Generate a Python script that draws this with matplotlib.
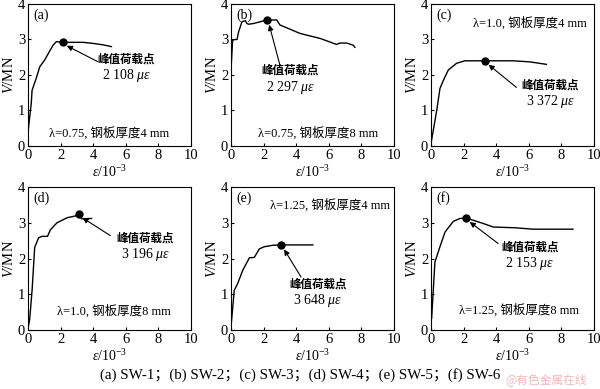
import matplotlib
matplotlib.use("Agg")
import matplotlib.pyplot as plt

plt.rcParams['font.family'] = ['Liberation Serif', 'Noto Sans CJK SC']
plt.rcParams['mathtext.fontset'] = 'custom'
plt.rcParams['mathtext.rm'] = 'Liberation Serif'
plt.rcParams['mathtext.it'] = 'Liberation Serif:italic'

# ---- data (strain in 1e-3, load in MN) ----
a_x = [0.0, 0.05, 0.2, 0.25, 0.5, 0.72, 1.02, 1.3, 1.54, 1.74, 2.13, 2.8, 3.38, 4.0, 4.6, 5.12]
a_y = [0.35, 0.6, 1.2, 1.57, 1.9, 2.23, 2.42, 2.65, 2.84, 2.94, 2.92, 2.92, 2.92, 2.89, 2.85, 2.8]
b_x = [0.0, 0.1, 0.26, 0.37, 0.47, 0.57, 0.67, 0.88, 0.98, 1.08, 1.38, 1.79, 2.2, 2.81, 3.0, 4.24, 5.47, 6.48, 6.68, 7.1, 7.5, 7.6]
b_y = [2.14, 2.98, 3.0, 3.0, 3.22, 3.36, 3.5, 3.53, 3.45, 3.43, 3.45, 3.5, 3.55, 3.55, 3.41, 3.17, 3.03, 2.86, 2.9, 2.9, 2.84, 2.78]
c_x = [0.0, 0.35, 0.55, 0.76, 1.06, 1.57, 2.08, 3.3, 5.04, 6.06, 7.08]
c_y = [0.07, 1.0, 1.62, 1.85, 2.14, 2.33, 2.4, 2.4, 2.4, 2.37, 2.3]
d_x = [0.0, 0.1, 0.25, 0.41, 0.65, 0.86, 1.2, 1.37, 1.78, 2.4, 3.0, 3.1, 3.3, 3.9]
d_y = [0.05, 0.28, 1.11, 2.31, 2.58, 2.62, 2.62, 2.8, 3.0, 3.14, 3.2, 3.24, 3.11, 3.12]
e_x = [0.0, 0.2, 0.41, 0.72, 1.13, 1.43, 1.74, 2.05, 2.56, 3.07, 5.02]
e_y = [0.09, 1.11, 1.3, 1.67, 2.02, 2.03, 2.27, 2.33, 2.37, 2.38, 2.38]
f_x = [0.04, 0.24, 0.55, 0.86, 1.37, 1.78, 2.14, 2.59, 3.2, 3.82, 5.14, 6.27, 8.71]
f_y = [0.33, 1.9, 2.33, 2.74, 3.04, 3.12, 3.13, 3.07, 2.98, 2.88, 2.86, 2.82, 2.82]

peaks_x = [2.13, 2.2, 3.3, 3.1, 3.07, 2.14]
peaks_y = [2.92, 3.55, 2.4, 3.24, 2.38, 3.13]
peak_labels = ['2 108', '2 297', '3 372', '3 196', '3 648', '2 153']
panel_labels = ['(a)', '(b)', '(c)', '(d)', '(e)', '(f)']
lambdas = ['0.75', '0.75', '1.0', '1.0', '1.25', '1.25']
thick = ['4', '8', '4', '8', '4', '8']
caption = '(a) SW-1；(b) SW-2；(c) SW-3；(d) SW-4；(e) SW-5；(f) SW-6'

curves = [(a_x, a_y), (b_x, b_y), (c_x, c_y), (d_x, d_y), (e_x, e_y), (f_x, f_y)]

# text layout per panel
txt_pos = [(6.05, 2.44), (3.63, 2.11), (7.3, 1.71), (7.2, 2.55), (5.33, 1.27), (6.06, 2.3)]
arrow_start = [(4.3, 2.37), (3.0, 2.28), (5.24, 1.65), (5.05, 2.64), (4.3, 1.48), (4.12, 2.42)]
lam_pos = [(5.0, 0.37), (5.35, 0.35), (6.06, 3.47), (5.25, 0.54), (6.05, 3.5), (5.39, 0.56)]

fig = plt.figure(figsize=(6.0, 3.89), dpi=100)
W, H = 600, 389
lefts = [28, 231, 431]
rows = [(4, 146), (187, 330)]

for i in range(6):
    r, c = divmod(i, 3)
    top, bot = rows[r]
    ax = fig.add_axes([lefts[c] / W, 1 - bot / H, 163 / W, (bot - top) / H])
    x, y = curves[i]
    ax.plot(x, y, color='black', lw=1.0)
    ax.plot(peaks_x[i], peaks_y[i], 'o', color='black', ms=5)
    ax.set_xlim(0, 10)
    ax.set_ylim(0, 4)
    ax.set_xticks([0, 2, 4, 6, 8, 10])
    ax.set_yticks([0, 1, 2, 3, 4])
    ax.tick_params(direction='in', length=2.5, width=0.8, labelsize=10.5, pad=2)
    for s in ax.spines.values():
        s.set_linewidth(0.8)
    ax.set_xlabel(r'$\mathit{\varepsilon}$/10$^{-3}$', fontsize=10, labelpad=2)
    ax.set_ylabel(r'$\mathit{V}$/MN', fontsize=10.5, labelpad=1)
    ax.text(0.3, 3.69, panel_labels[i], fontsize=10, va='center', ha='left')
    tx, ty = txt_pos[i]
    ax.text(tx, ty, '峰值荷载点', fontsize=8.3, ha='center', va='center', fontweight='bold')
    ax.text(tx, ty - 0.45, peak_labels[i] + r' $\mathit{\mu\varepsilon}$', fontsize=10, ha='center', va='center')
    ax.annotate('', xy=(peaks_x[i] + 0.1, peaks_y[i] - 0.06), xytext=arrow_start[i],
                arrowprops=dict(arrowstyle='-|>', color='black', lw=0.8,
                                mutation_scale=8, shrinkA=0, shrinkB=2))
    lx, ly = lam_pos[i]
    ax.text(lx, ly, 'λ=' + lambdas[i] + ', 钢板厚度' + thick[i] + ' mm',
            fontsize=9, ha='center', va='center')

fig.text(0.5, 1 - 375 / H, caption, fontsize=10.8, ha='center', va='center')
fig.text(0.91, 1 - 380 / H, '@有色金属在线', fontsize=8.5, ha='center', va='center',
         color='#f2b8b8', family=['Noto Sans CJK SC'])

fig.savefig('out.png', dpi=100)
